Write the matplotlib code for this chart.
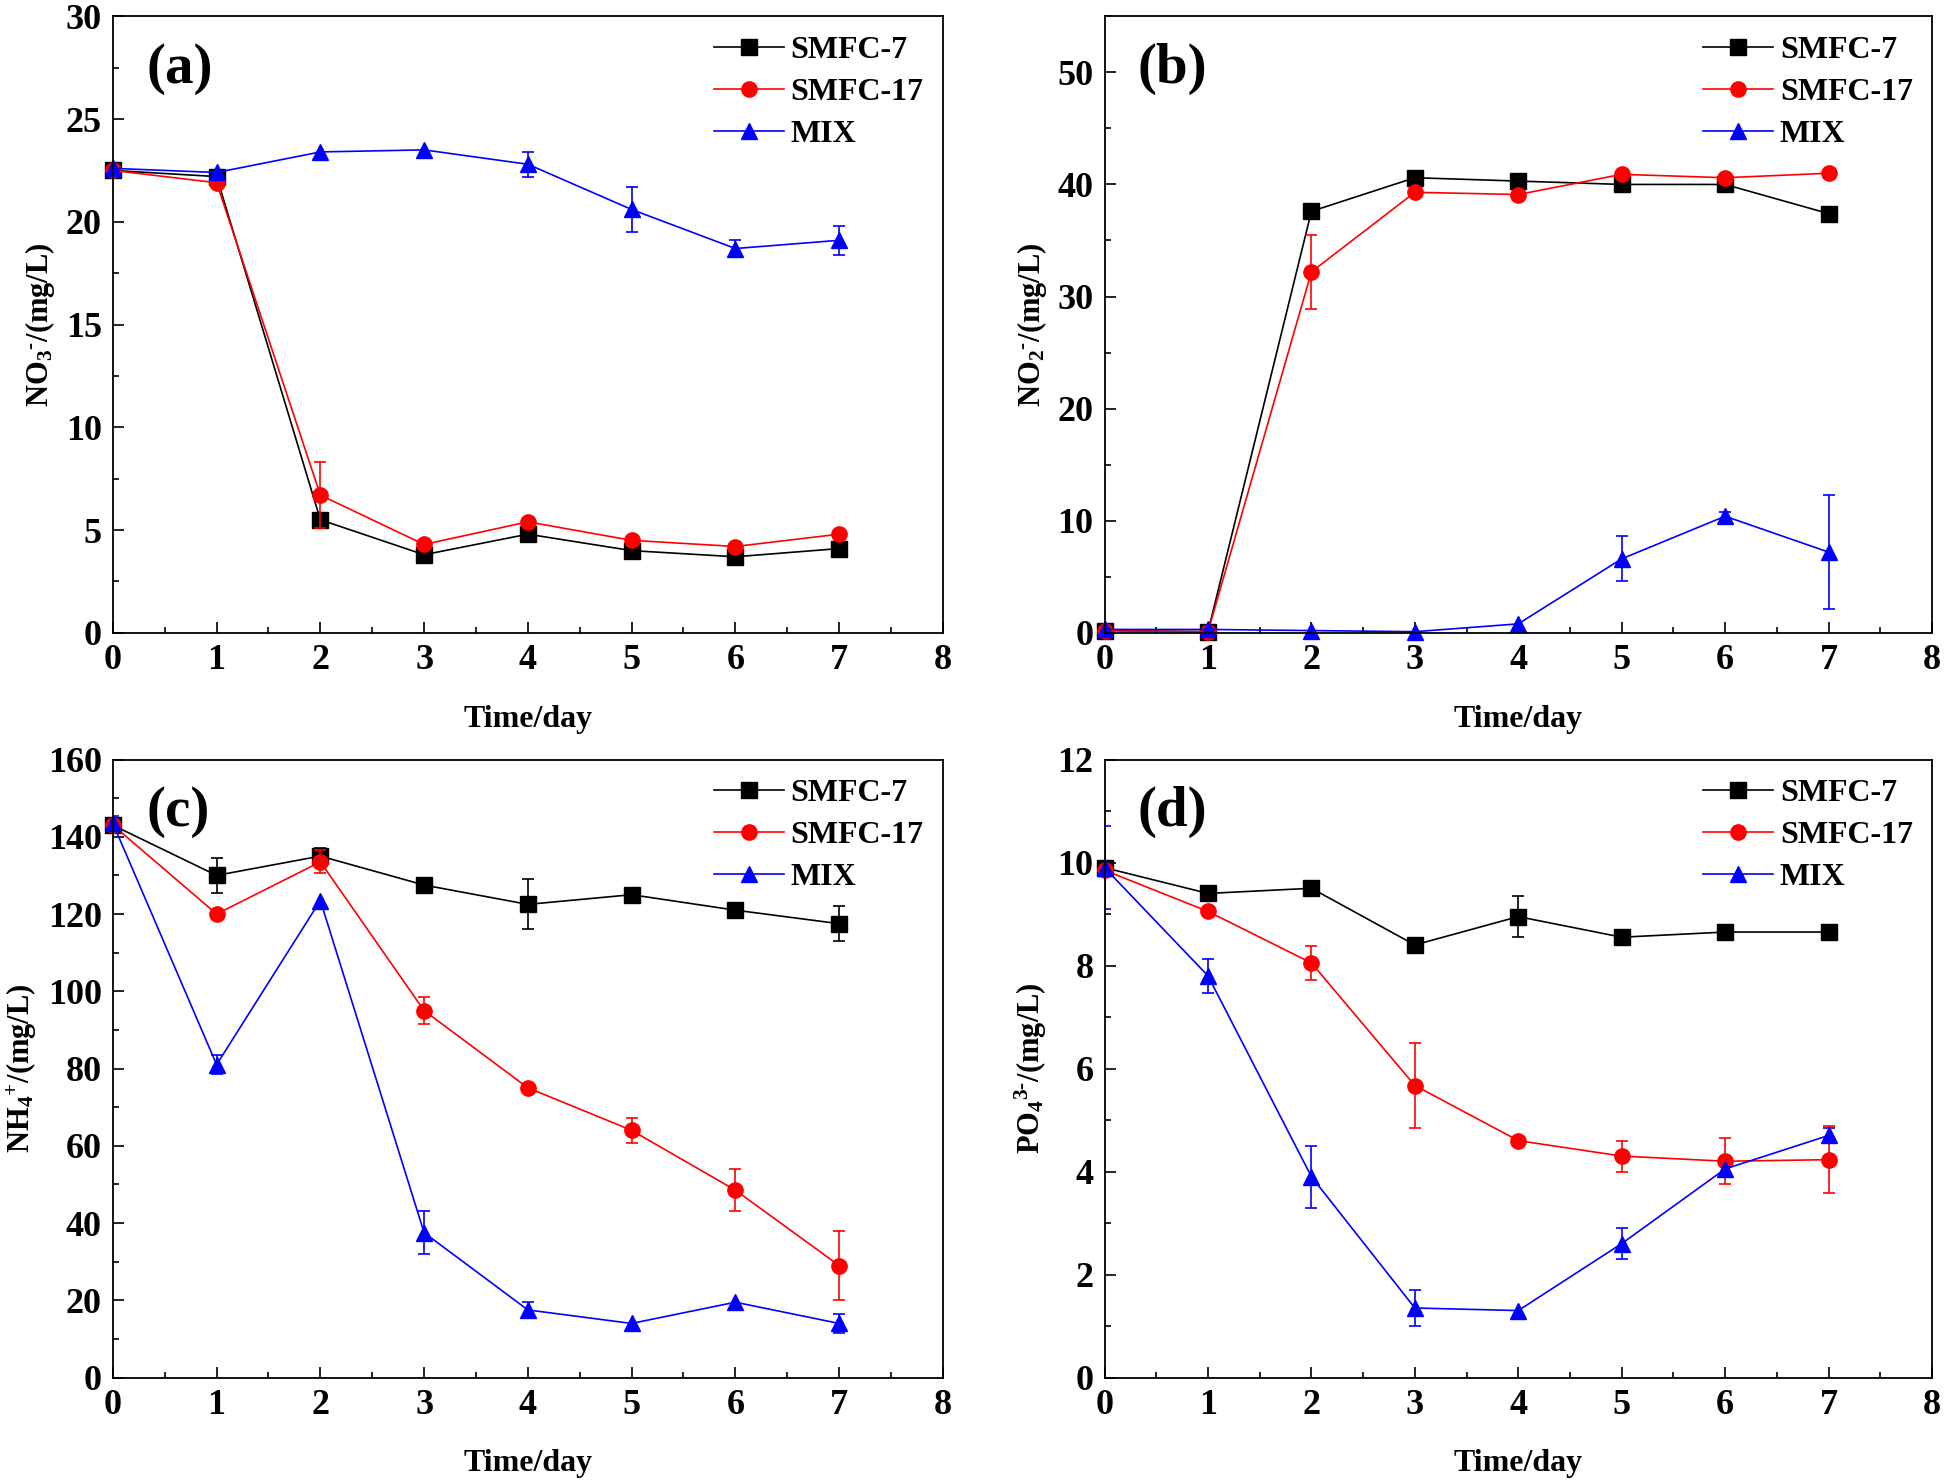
import matplotlib
matplotlib.use('Agg')
import matplotlib.pyplot as plt
from matplotlib.ticker import MultipleLocator
import numpy as np

plt.rcParams.update({
    'font.family': 'Liberation Serif',
    'font.weight': 'bold',
    'mathtext.fontset': 'custom',
    'mathtext.rm': 'Liberation Serif:bold',
    'mathtext.it': 'Liberation Serif:bold',
    'mathtext.bf': 'Liberation Serif:bold',
    'axes.linewidth': 1.3,
})

days = np.arange(8)
series_names = ['SMFC-7', 'SMFC-17', 'MIX']

# (a) nitrate
no3_smfc7 = [22.5, 22.2, 5.5, 3.8, 4.8, 4.0, 3.7, 4.1]
no3_smfc7_err = [0, 0, 0, 0, 0, 0, 0, 0]
no3_smfc17 = [22.5, 21.9, 6.7, 4.3, 5.4, 4.5, 4.2, 4.8]
no3_smfc17_err = [0, 0, 1.6, 0, 0, 0, 0, 0]
no3_mix = [22.6, 22.4, 23.4, 23.5, 22.8, 20.6, 18.7, 19.1]
no3_mix_err = [0, 0, 0, 0, 0.6, 1.1, 0.4, 0.7]

# (b) nitrite
no2_smfc7 = [0.2, 0.1, 37.6, 40.6, 40.3, 40.0, 40.0, 37.4]
no2_smfc7_err = [0, 0, 0, 0, 0, 0, 0, 0]
no2_smfc17 = [0.2, 0.1, 32.2, 39.3, 39.1, 40.9, 40.6, 41.0]
no2_smfc17_err = [0, 0, 3.3, 0, 0, 0, 0, 0]
no2_mix = [0.3, 0.3, 0.2, 0.1, 0.8, 6.6, 10.4, 7.2]
no2_mix_err = [0, 0, 0, 0, 0, 2.0, 0.4, 5.1]

# (c) ammonium
nh4_smfc7 = [143, 130, 135, 127.5, 122.5, 125, 121, 117.5]
nh4_smfc7_err = [0, 4.5, 2, 0, 6.5, 0, 0, 4.5]
nh4_smfc17 = [143, 120, 133.5, 95, 75, 64, 48.5, 29]
nh4_smfc17_err = [0, 0, 3, 3.5, 0, 3.2, 5.5, 9]
nh4_mix = [143.5, 81, 123.5, 37.5, 17.5, 14, 19.5, 14]
nh4_mix_err = [2, 2.5, 0, 5.5, 2, 0, 0, 2.5]

# (d) phosphate
po4_smfc7 = [9.9, 9.4, 9.5, 8.4, 8.95, 8.55, 8.65, 8.65]
po4_smfc7_err = [0, 0.15, 0.15, 0, 0.4, 0, 0, 0]
po4_smfc17 = [9.85, 9.05, 8.05, 5.67, 4.6, 4.3, 4.2, 4.23]
po4_smfc17_err = [0, 0, 0.33, 0.83, 0, 0.3, 0.45, 0.65]
po4_mix = [9.9, 7.8, 3.9, 1.35, 1.3, 2.6, 4.05, 4.7]
po4_mix_err = [0.8, 0.33, 0.6, 0.35, 0, 0.3, 0, 0.15]

colors = ['black', 'red', 'blue']
markers = ['s', 'o', '^']

panels = [
    ('(a)', 'NO$_3$$^{\u2010}$/(mg/L)', 30, 5, 2.5,
     [(no3_smfc7, no3_smfc7_err), (no3_smfc17, no3_smfc17_err), (no3_mix, no3_mix_err)],
     [0.058, 0.573, 0.4265, 0.416]),
    ('(b)', 'NO$_2$$^{\u2010}$/(mg/L)', 55, 10, 5,
     [(no2_smfc7, no2_smfc7_err), (no2_smfc17, no2_smfc17_err), (no2_mix, no2_mix_err)],
     [0.5676, 0.573, 0.4252, 0.416]),
    ('(c)', 'NH$_4$$^{+}$/(mg/L)', 160, 20, 10,
     [(nh4_smfc7, nh4_smfc7_err), (nh4_smfc17, nh4_smfc17_err), (nh4_mix, nh4_mix_err)],
     [0.058, 0.0705, 0.4265, 0.417]),
    ('(d)', 'PO$_4$$^{3\u2010}$/(mg/L)', 12, 2, 1,
     [(po4_smfc7, po4_smfc7_err), (po4_smfc17, po4_smfc17_err), (po4_mix, po4_mix_err)],
     [0.5676, 0.0705, 0.4252, 0.417]),
]

fig = plt.figure(figsize=(19.46, 14.82), dpi=100)

for tag, ylabel, ymax, major, minor, data, rect in panels:
    ax = fig.add_axes(rect)
    for (vals, errs), name, c, m in zip(data, series_names, colors, markers):
        vals = np.array(vals, dtype=float)
        errs = np.array(errs, dtype=float)
        ax.plot(days, vals, color=c, marker=m, markersize=11, linewidth=1.2,
                label=name, clip_on=False)
        mask = errs > 0
        ax.errorbar(days[mask], vals[mask], yerr=errs[mask], fmt='none',
                    ecolor=c, elinewidth=1.2, capsize=4, capthick=1.2)
    ax.set_xlim(0, 8)
    ax.set_ylim(0, ymax)
    ax.xaxis.set_major_locator(MultipleLocator(1))
    ax.xaxis.set_minor_locator(MultipleLocator(0.5))
    ax.yaxis.set_major_locator(MultipleLocator(major))
    ax.yaxis.set_minor_locator(MultipleLocator(minor))
    ax.tick_params(which='both', direction='in', top=False, right=False,
                   labelsize=26, width=1.2)
    ax.tick_params(which='major', length=8, pad=8)
    ax.tick_params(which='minor', length=4)
    ax.set_xlabel('Time/day', fontsize=23, fontweight='bold', labelpad=20)
    ax.set_ylabel(ylabel, fontsize=22, fontweight='bold', labelpad=6)
    ax.text(0.04, 0.915, tag, transform=ax.transAxes, fontsize=41,
            fontweight='bold', va='center', ha='left')
    ax.legend(loc='upper right', frameon=False, fontsize=23,
              handlelength=2.2, handletextpad=0.2, labelspacing=0.4,
              borderaxespad=0.2, bbox_to_anchor=(1.0, 1.0))

fig.savefig('out.png', dpi=100)
